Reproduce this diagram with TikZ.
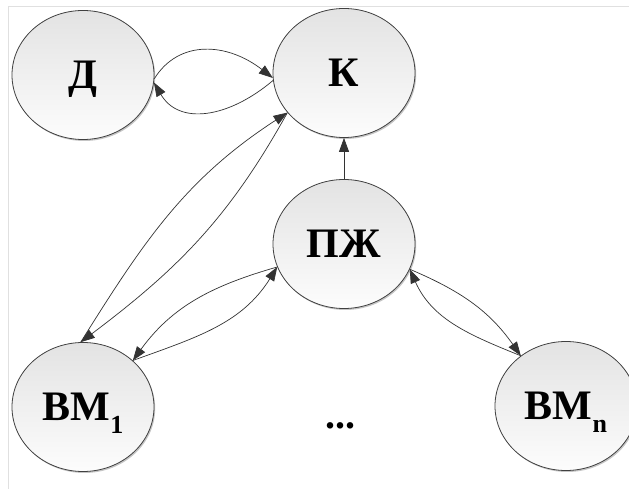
\documentclass[tikz,border=0pt]{standalone}
\usepackage{fontspec}
\setmainfont{Liberation Serif}
\usetikzlibrary{shapes.geometric,arrows.meta,shadows}
\newcommand\mysub[1]{\raisebox{-13pt}{\fontsize{26}{26}\selectfont #1}}
\begin{document}
\begin{tikzpicture}[x=1pt,y=1pt,
  state/.style={ellipse, draw=black!75, line width=0.8pt,
    minimum width=142pt, minimum height=129pt, inner sep=0pt,
    text height=28pt, text depth=0pt,
    top color=black!11, bottom color=black!1,
    font=\fontsize{42}{42}\selectfont\bfseries,
    drop shadow={shadow xshift=1.2pt, shadow yshift=-1.5pt, fill=black!45, opacity=0.5}},
  conn/.style={line width=0.7pt, draw=black!80, -{Triangle[length=14pt,width=10pt]}},
  frameline/.style={draw=black!12, line width=0.8pt}]
\clip (0,0) rectangle (629,489);
\fill[white] (0,0) rectangle (629,489);
\draw[frameline] (8,0) -- (8,483) -- (629,483);

\node[state] (D)  at (83,414)  {Д};
\node[state] (K)  at (344,416) {К};
\node[state] (P)  at (344,245) {ПЖ};
\node[state] (B1) at (83,82)   {ВМ\mysub{1}};
\node[state] (Bn) at (566,83)  {ВМ\mysub{n}};
\node[font=\fontsize{40}{40}\selectfont\bfseries, anchor=base, inner sep=0pt] (dots) at (340,60) {...};

\draw[conn] (D.-3) .. controls +(25,40) and +(-45,35) .. (K.184);
\draw[conn] (K.186) .. controls +(-45,-38) and +(25,-43) .. (D.-6);

\draw[conn] (P) -- (K);

\draw[conn] (B1.92) to[out=58,in=213] (K.215);
\draw[conn] (K.215) to[out=241,in=37] (B1.92);

\draw[conn] (P.199) to[out=196,in=54] (B1.43);
\draw[conn] (B1.43) to[out=20,in=238] (P.199);

\draw[conn] (P.-21) to[out=-23,in=125] (Bn.132);
\draw[conn] (Bn.132) to[out=158,in=-66] (P.-21);
\end{tikzpicture}
\end{document}
